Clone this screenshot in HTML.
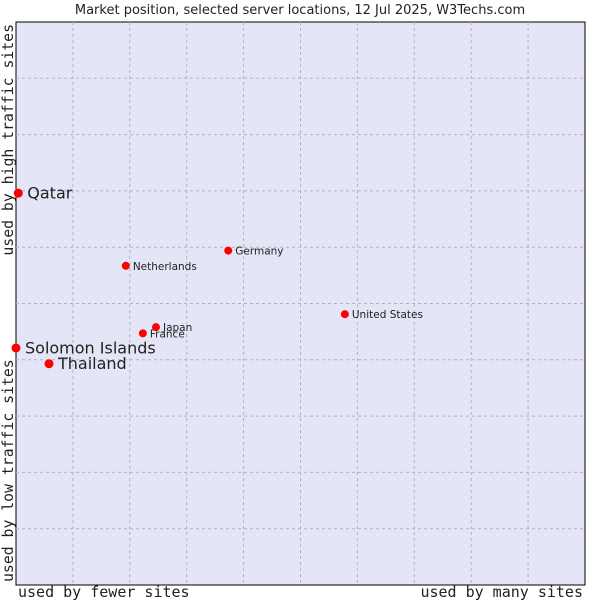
<!DOCTYPE html>
<html><head><meta charset="utf-8"><style>
body{margin:0;background:#fff;}
svg text{font-family:"DejaVu Sans","Liberation Sans",sans-serif;fill:#222;}
.mono{font-family:"DejaVu Sans Mono","Liberation Mono",monospace !important;}
</style></head><body>
<svg id="chart" width="600" height="600" xmlns="http://www.w3.org/2000/svg">
<text x="300" y="14" font-size="13" text-anchor="middle">Market position, selected server locations, 12 Jul 2025, W3Techs.com</text>
<rect x="16" y="22" width="569" height="563" fill="#e4e5f7" stroke="#000" stroke-width="1"/>
<g id="grid"></g>
<g id="marks"></g>
<text x="18" y="597" font-size="15" class="mono">used by fewer sites</text>
<text x="583" y="597" font-size="15" class="mono" text-anchor="end">used by many sites</text>
<text transform="translate(13,582) rotate(-90)" font-size="14.8" class="mono">used by low traffic sites</text>
<text transform="translate(13,24) rotate(-90)" font-size="14.8" class="mono" text-anchor="end">used by high traffic sites</text>
</svg>
<script>
const countries=["Qatar","Solomon Islands","Thailand","France","Japan","Netherlands","Germany","United States"];
const xValues=[0.4,0,5.8,22.3,24.6,19.3,37.3,57.8];
const yValues=[69.6,42.1,39.3,44.7,45.8,56.7,59.4,48.1];
const bigLabel=[true,true,true,false,false,false,false,false];
const gridTicks=[10,20,30,40,50,60,70,80,90];
const X0=16,X1=585,Y0=585,Y1=22;
const sx=v=>X0+(X1-X0)*v/100, sy=v=>Y0-(Y0-Y1)*v/100;
const NS="http://www.w3.org/2000/svg";
const grid=document.getElementById('grid'), marks=document.getElementById('marks');
gridTicks.forEach(t=>{
  let l=document.createElementNS(NS,'line');
  l.setAttribute('x1',sx(t));l.setAttribute('x2',sx(t));l.setAttribute('y1',Y1);l.setAttribute('y2',Y0);
  l.setAttribute('stroke','#b4b4b4');l.setAttribute('stroke-dasharray','3,3');
  
  
  grid.appendChild(l);
  let h=document.createElementNS(NS,'line');
  h.setAttribute('y1',sy(t));h.setAttribute('y2',sy(t));h.setAttribute('x1',X0);h.setAttribute('x2',X1);
  h.setAttribute('stroke','#b4b4b4');h.setAttribute('stroke-dasharray','3,3');
  
  
  grid.appendChild(h);
});
countries.forEach((c,i)=>{
  const x=sx(xValues[i]),y=sy(yValues[i]);
  let p=document.createElementNS(NS,'circle');
  p.setAttribute('cx',x);p.setAttribute('cy',y);p.setAttribute('r',bigLabel[i]?4.5:4);p.setAttribute('fill','#f00');
  
  
  marks.appendChild(p);
  let t=document.createElementNS(NS,'text');
  t.setAttribute('x',x+(bigLabel[i]?9:7));t.setAttribute('y',y+(bigLabel[i]?5.5:4));
  t.setAttribute('font-size',bigLabel[i]?16:10.5);
  t.textContent=c;
  
  
  marks.appendChild(t);
});
</script>
</body></html>
